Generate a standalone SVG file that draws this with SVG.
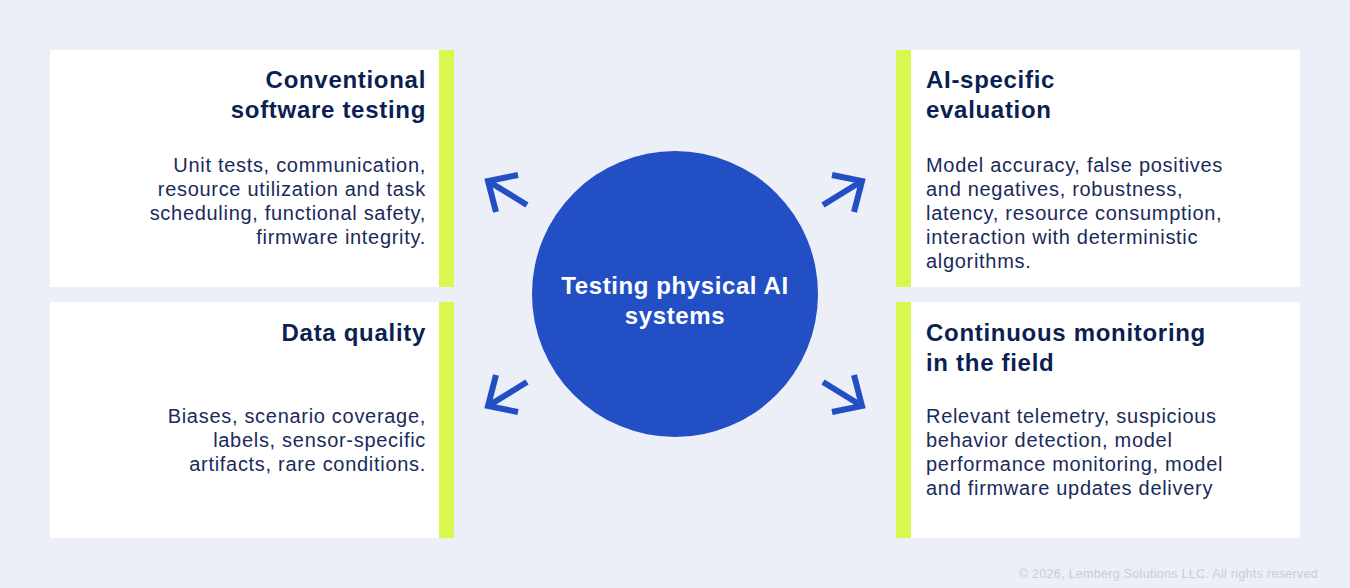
<svg xmlns="http://www.w3.org/2000/svg" width="1350" height="588" viewBox="0 0 1350 588">
<style>
.panel{fill:#ffffff}
.bar{fill:#d8f84f}
.title{font-family:"Liberation Sans",Arial,sans-serif;font-weight:bold;font-size:24px;letter-spacing:0.7px;fill:#0c1f52}
.body{font-family:"Liberation Sans",Arial,sans-serif;font-size:20px;letter-spacing:0.7px;fill:#1a2a5a}
.ctext{font-family:"Liberation Sans",Arial,sans-serif;font-weight:bold;font-size:24px;letter-spacing:0.6px;fill:#ffffff}
.arrow{fill:none;stroke:#234fc4;stroke-width:6;stroke-linecap:butt;stroke-linejoin:miter}
.copy{font-family:"Liberation Sans",Arial,sans-serif;font-size:12.5px;letter-spacing:0.3px;fill:#c9ccdc}
</style>
<rect width="1350" height="588" fill="#eceef8"/>
<g id="node-conventional">
<rect class="panel" x="50" y="50" width="389" height="237"/>
<rect class="bar" x="439" y="50" width="15" height="237"/>
<text class="title" text-anchor="end" x="426" y="88">Conventional</text>
<text class="title" text-anchor="end" x="426" y="118">software testing</text>
<text class="body" text-anchor="end" x="426" y="172">Unit tests, communication,</text>
<text class="body" text-anchor="end" x="426" y="196">resource utilization and task</text>
<text class="body" text-anchor="end" x="426" y="220">scheduling, functional safety,</text>
<text class="body" text-anchor="end" x="426" y="244">firmware integrity.</text>
</g>
<g id="node-data-quality">
<rect class="panel" x="50" y="302" width="389" height="236"/>
<rect class="bar" x="439" y="302" width="15" height="236"/>
<text class="title" text-anchor="end" x="426" y="341">Data quality</text>
<text class="body" text-anchor="end" x="426" y="423">Biases, scenario coverage,</text>
<text class="body" text-anchor="end" x="426" y="447">labels, sensor-specific</text>
<text class="body" text-anchor="end" x="426" y="471">artifacts, rare conditions.</text>
</g>
<g id="node-ai-specific">
<rect class="bar" x="896" y="50" width="15" height="237"/>
<rect class="panel" x="911" y="50" width="389" height="237"/>
<text class="title" x="926" y="88">AI-specific</text>
<text class="title" x="926" y="118">evaluation</text>
<text class="body" x="926" y="172">Model accuracy, false positives</text>
<text class="body" x="926" y="196">and negatives, robustness,</text>
<text class="body" x="926" y="220">latency, resource consumption,</text>
<text class="body" x="926" y="244">interaction with deterministic</text>
<text class="body" x="926" y="268">algorithms.</text>
</g>
<g id="node-monitoring">
<rect class="bar" x="896" y="302" width="15" height="236"/>
<rect class="panel" x="911" y="302" width="389" height="236"/>
<text class="title" x="926" y="341">Continuous monitoring</text>
<text class="title" x="926" y="371">in the field</text>
<text class="body" x="926" y="423">Relevant telemetry, suspicious</text>
<text class="body" x="926" y="447">behavior detection, model</text>
<text class="body" x="926" y="471">performance monitoring, model</text>
<text class="body" x="926" y="495">and firmware updates delivery</text>
</g>
<g id="node-center">
<circle cx="675" cy="294" r="143" fill="#234fc4"/>
<text class="ctext" text-anchor="middle" x="675" y="294">Testing physical AI</text>
<text class="ctext" text-anchor="middle" x="675" y="324">systems</text>
</g>
<g id="connectors">
<path class="arrow" d="M527 205 L488 181 M518 175 L488 181 L496 212"/>
<path class="arrow" d="M823 205 L862 181 M832 175 L862 181 L854 212"/>
<path class="arrow" d="M527 382 L488 406 M518 412 L488 406 L496 375"/>
<path class="arrow" d="M823 382 L862 406 M832 412 L862 406 L854 375"/>
</g>
<text class="copy" text-anchor="end" x="1318" y="578">© 2026, Lemberg Solutions LLC. All rights reserved</text>
</svg>
